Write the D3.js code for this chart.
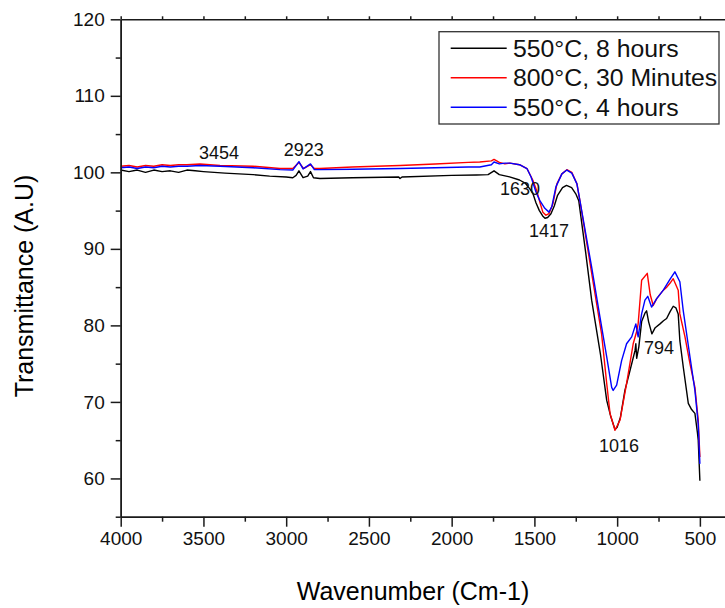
<!DOCTYPE html>
<html>
<head>
<meta charset="utf-8">
<script src="https://cdn.jsdelivr.net/npm/d3@7"></script>
<style>
  body { margin: 0; background: #fff; }
  svg { display: block; font-family: "Liberation Sans", Arial, sans-serif; }
</style>
</head>
<body>
<div id="chart"></div>
<script>
const WIDTH = 725;
const HEIGHT = 608;

// wavenumber (cm-1), transmittance (A.U)
const black8h = [
  [4000, 100.3], [3950, 100.1], [3900, 100.3], [3850, 100.0], [3800, 100.3], [3750, 100.1],
  [3700, 100.2], [3650, 100.0], [3600, 100.3], [3550, 100.2], [3500, 100.1], [3370, 99.9],
  [3200, 99.7], [3100, 99.5], [3000, 99.4], [2960, 99.3], [2940, 99.6], [2923, 100.2],
  [2898, 99.3], [2870, 99.5], [2853, 100.1], [2835, 99.3], [2796, 99.2], [2600, 99.3],
  [2320, 99.4], [2312, 99.2], [2300, 99.4], [2000, 99.6], [1850, 99.65], [1780, 99.7],
  [1744, 100.2], [1712, 99.7], [1650, 99.4], [1590, 99.0], [1556, 98.6], [1530, 97.9],
  [1510, 97.3], [1490, 96.0], [1470, 95.0], [1450, 94.3], [1436, 94.0], [1420, 94.1],
  [1400, 94.6], [1380, 95.6], [1360, 97.0], [1330, 98.0], [1306, 98.3], [1275, 98.0],
  [1250, 97.2], [1232, 96.3], [1190, 89.5], [1154, 83.3], [1100, 76.1], [1063, 70.2],
  [1040, 68.2], [1013, 66.4], [1000, 66.7], [980, 68.0], [953, 71.5], [920, 74.3],
  [892, 76.7], [887, 77.6], [882, 75.7], [869, 77.2], [852, 80.5], [832, 81.6],
  [822, 81.9], [810, 80.5], [790, 78.9], [770, 79.7], [741, 80.2], [720, 80.6],
  [701, 80.9], [680, 81.8], [661, 82.5], [645, 82.3], [631, 81.5], [621, 78.0],
  [600, 74.5], [570, 69.8], [550, 69.0], [530, 68.5], [515, 66.0], [510, 65.0], [500, 59.7]
];

const red30min = [
  [4000, 100.8], [3950, 100.9], [3900, 100.7], [3850, 100.9], [3800, 100.8], [3750, 101.0],
  [3700, 100.9], [3650, 101.0], [3600, 101.0], [3521, 101.1], [3400, 100.9], [3200, 100.8],
  [3037, 100.5], [2960, 100.5], [2923, 101.3], [2895, 100.5], [2853, 101.0], [2830, 100.5],
  [2796, 100.5], [2600, 100.7], [2312, 100.9], [2100, 101.1], [1900, 101.3], [1830, 101.35],
  [1760, 101.5], [1744, 101.7], [1712, 101.3], [1678, 101.1], [1648, 101.2], [1590, 101.0],
  [1545, 100.5], [1510, 99.0], [1486, 97.6], [1467, 96.1], [1449, 94.8], [1430, 94.4],
  [1412, 94.6], [1388, 95.9], [1364, 98.5], [1334, 99.8], [1304, 100.35], [1274, 100.0],
  [1243, 98.5], [1225, 96.3], [1144, 85.5], [1094, 78.9], [1063, 72.4], [1043, 68.5],
  [1013, 66.3], [983, 67.6], [943, 72.4], [903, 77.6], [882, 79.2], [873, 80.2],
  [852, 85.9], [818, 86.8], [800, 84.0], [782, 82.6], [761, 83.5], [721, 84.6],
  [700, 85.0], [681, 85.5], [661, 86.1], [631, 84.6], [621, 81.5], [590, 78.5],
  [560, 75.0], [530, 71.9], [510, 67.6], [500, 62.8]
];

const blue4h = [
  [4000, 100.6], [3950, 100.7], [3900, 100.5], [3850, 100.7], [3800, 100.6], [3750, 100.8],
  [3700, 100.7], [3650, 100.8], [3600, 100.8], [3521, 100.9], [3400, 100.8], [3200, 100.6],
  [3037, 100.35], [2960, 100.3], [2923, 101.4], [2898, 100.45], [2853, 101.1], [2830, 100.35],
  [2796, 100.35], [2600, 100.4], [2312, 100.5], [2100, 100.6], [1900, 100.7], [1830, 100.7],
  [1760, 101.0], [1744, 101.35], [1712, 101.1], [1678, 101.2], [1648, 101.2], [1590, 101.0],
  [1545, 100.5], [1520, 99.4], [1490, 97.4], [1467, 96.3], [1437, 95.3], [1412, 94.8],
  [1395, 95.5], [1370, 98.1], [1334, 99.8], [1304, 100.3], [1274, 99.9], [1243, 98.5],
  [1225, 96.3], [1154, 87.6], [1104, 81.1], [1063, 75.9], [1033, 71.9], [1024, 71.5],
  [1003, 72.2], [973, 75.4], [943, 77.6], [912, 78.5], [887, 80.2], [873, 78.5],
  [852, 81.5], [832, 83.3], [815, 83.8], [792, 82.4], [761, 83.5], [721, 84.6],
  [681, 86.0], [651, 87.0], [621, 85.7], [601, 82.0], [560, 75.9], [530, 71.5],
  [510, 67.1], [500, 61.9]
];

const seriesNames = ['550°C, 8 hours', '800°C, 30 Minutes', '550°C, 4 hours'];
const seriesColors = ['#000000', '#ff0000', '#0000ff'];

const xMajorTicks = [4000, 3500, 3000, 2500, 2000, 1500, 1000, 500];
const xMinorTicks = [3750, 3250, 2750, 2250, 1750, 1250, 750];
const yMajorTicks = [60, 70, 80, 90, 100, 110, 120];
const yMinorTicks = [55, 65, 75, 85, 95, 105, 115];

// peak labels: text, anchor wavenumber, anchor transmittance (baseline)
const peakText = ['3454', '2923', '1630', '1417', '1016', '794'];
const peakWn = [3406, 2894, 1587, 1412, 989, 747];
const peakT = [101.7, 102.1, 97.0, 91.6, 63.5, 76.2];

const x = d3.scaleLinear().domain([4000, 318]).range([120.7, 730]);
const y = d3.scaleLinear().domain([55, 120]).range([516.7, 19.3]);

const svg = d3.select('#chart').append('svg')
  .attr('width', WIDTH)
  .attr('height', HEIGHT);

const line = d3.line()
  .x(d => x(d[0]))
  .y(d => y(d[1]))
  .curve(d3.curveLinear);

// Spectra, drawn black first so colours sit on top
[black8h, red30min, blue4h].forEach((data, i) => {
  svg.append('path')
    .datum(data)
    .attr('fill', 'none')
    .attr('stroke', seriesColors[i])
    .attr('stroke-width', 1.4)
    .attr('stroke-linejoin', 'round')
    .attr('d', line);
});

// Axes
function styleAxis(g) {
  g.selectAll('path, line').attr('stroke', '#1a1a1a').attr('stroke-width', 1.5);
  g.selectAll('text').attr('fill', '#111').style('font-size', '19px')
    .style('font-family', '"Liberation Sans", Arial, sans-serif');
}

svg.append('g')
  .attr('transform', 'translate(0,516.7)')
  .call(d3.axisBottom(x).tickValues(xMajorTicks).tickSize(10).tickSizeOuter(0).tickPadding(5).tickFormat(d3.format('d')))
  .call(styleAxis);
svg.append('g')
  .attr('transform', 'translate(0,516.7)')
  .call(d3.axisBottom(x).tickValues(xMinorTicks).tickSize(5).tickSizeOuter(0).tickFormat(''))
  .call(styleAxis);

svg.append('g')
  .attr('transform', 'translate(120.7,0)')
  .call(d3.axisLeft(y).tickValues(yMajorTicks).tickSize(10).tickSizeOuter(0).tickPadding(6))
  .call(styleAxis);
svg.append('g')
  .attr('transform', 'translate(120.7,0)')
  .call(d3.axisLeft(y).tickValues(yMinorTicks).tickSize(5).tickSizeOuter(0).tickFormat(''))
  .call(styleAxis);

// Top frame line
svg.append('g')
  .attr('transform', 'translate(0,19.3)')
  .call(d3.axisTop(x).tickValues(xMajorTicks.concat(xMinorTicks)).tickSize(3).tickSizeOuter(0).tickFormat(''))
  .call(styleAxis);

// Axis titles
svg.append('text')
  .attr('x', 413)
  .attr('y', 600)
  .attr('text-anchor', 'middle')
  .style('font-size', '25px')
  .text('Wavenumber (Cm-1)');

svg.append('text')
  .attr('transform', 'translate(33,286)rotate(-90)')
  .attr('text-anchor', 'middle')
  .style('font-size', '25px')
  .text('Transmittance (A.U)');

// Peak annotations
svg.selectAll('.peak')
  .data(peakText)
  .enter()
  .append('text')
  .attr('class', 'peak')
  .attr('x', (d, i) => x(peakWn[i]))
  .attr('y', (d, i) => y(peakT[i]))
  .attr('text-anchor', 'middle')
  .style('font-size', '18px')
  .attr('fill', '#111')
  .text(d => d);

// Legend
const legend = svg.append('g');
legend.append('rect')
  .attr('x', 439).attr('y', 31.7)
  .attr('width', 280).attr('height', 92.3)
  .attr('fill', '#fff')
  .attr('stroke', '#333')
  .attr('stroke-width', 1.3);

seriesNames.forEach((name, i) => {
  const cy = 48.3 + i * 29.5;
  legend.append('line')
    .attr('x1', 450.7).attr('x2', 506.7)
    .attr('y1', cy).attr('y2', cy)
    .attr('stroke', seriesColors[i])
    .attr('stroke-width', 1.4);
  legend.append('text')
    .attr('x', 513)
    .attr('y', cy + 8.3)
    .style('font-size', '24.8px')
    .attr('fill', '#111')
    .text(name);
});
</script>
</body>
</html>
